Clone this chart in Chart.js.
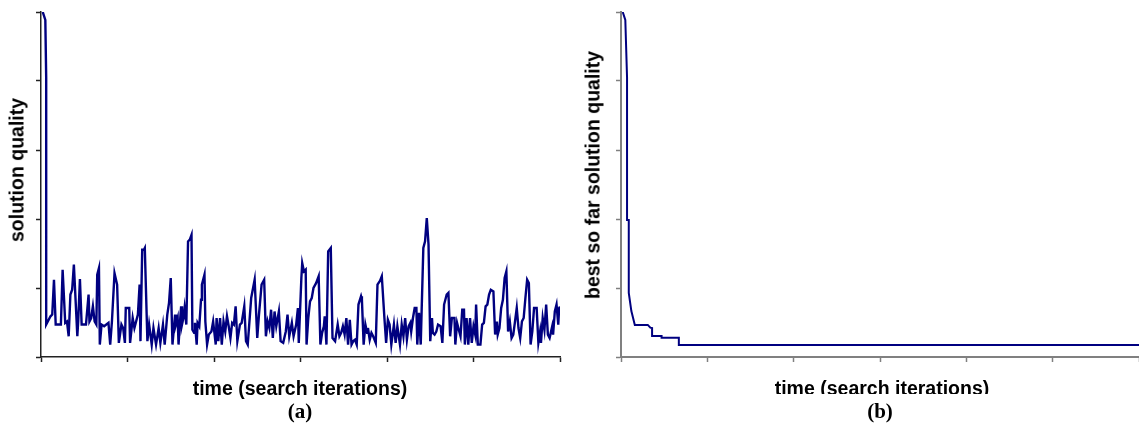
<!DOCTYPE html>
<html>
<head>
<meta charset="utf-8">
<script src="https://cdn.jsdelivr.net/npm/chart.js@4/dist/chart.umd.min.js"></script>
<style>
  body { margin: 0; background: #fff; width: 1139px; height: 429px; overflow: hidden; position: relative; }
  .box { position: absolute; top: 0; height: 429px; }
  .lbl { position: absolute; font-family: "Liberation Sans", Arial, sans-serif; font-weight: bold; font-size: 19.5px; color: #000; white-space: nowrap; transform: translate(-50%, -50%); }
  .rot { transform: translate(-50%, -50%) rotate(-90deg); }
  .cap { position: absolute; font-family: "Liberation Serif", "Times New Roman", serif; font-weight: bold; font-size: 21px; transform: translate(-50%, -50%); }
  .clip { position: absolute; overflow: hidden; }
</style>
</head>
<body>
<div class="box" style="left:0;width:580px"><canvas id="chartA"></canvas></div>
<div class="box" style="left:580px;width:559px"><canvas id="chartB"></canvas></div>

<div class="lbl rot" style="left:17px;top:170px">solution quality</div>
<div class="lbl rot" style="left:593px;top:175px">best so far solution quality</div>
<div class="lbl" style="left:300px;top:388px">time (search iterations)</div>
<div class="clip" style="left:700px;top:370px;width:370px;height:24px">
  <div class="lbl" style="left:182px;top:18px">time (search iterations)</div>
</div>
<div class="cap" style="left:300px;top:411px">(a)</div>
<div class="cap" style="left:880px;top:411px">(b)</div>

<script>
// (a) current solution quality per iteration
var iterA = [2, 5, 6, 6, 11, 13, 15, 17, 23, 25, 28, 30, 32, 34, 36, 38, 42, 43, 45, 47,
  52, 55, 56, 58, 60, 62, 64, 65, 67, 68, 70, 73, 78, 80, 82, 85, 88, 90, 93, 95,
  97, 98, 102, 103, 106, 108, 112, 114, 115, 117, 119, 120, 123, 125, 128, 130, 133, 136, 138, 141,
  143, 146, 148, 150, 152, 155, 156, 158, 159, 161, 162, 163, 165, 166, 168, 170, 172, 174, 175, 177,
  178, 180, 181, 183, 185, 186, 189, 190, 192, 194, 197, 199, 202, 203, 205, 207, 209, 211, 213, 215,
  217, 219, 221, 223, 225, 227, 230, 232, 235, 237, 239, 243, 247, 250, 252, 255, 258, 260, 262, 264,
  266, 268, 270, 272, 275, 277, 280, 283, 285, 287, 290, 292, 295, 297, 298, 301, 302, 304, 306, 307,
  309, 311, 313, 315, 318, 321, 323, 325, 327, 328, 330, 332, 335, 337, 340, 343, 345, 347, 349, 351,
  353, 355, 357, 359, 361, 363, 365, 367, 370, 371, 373, 375, 377, 378, 380, 382, 384, 387, 389, 392,
  394, 397, 399, 401, 403, 405, 408, 410, 412, 415, 417, 419, 421, 423, 425, 427, 428, 430, 432, 434,
  435, 437, 439, 442, 444, 446, 448, 450, 452, 453, 455, 457, 459, 462, 464, 466, 469, 471, 473, 475,
  478, 479, 481, 483, 485, 487, 489, 490, 492, 494, 496, 498, 500, 502, 503, 505, 508, 510, 512, 514,
  516, 518, 520, 523, 525, 527, 528, 530, 532, 534, 536, 538, 540, 542, 544, 546, 548, 550, 552, 554,
  556, 558, 560, 562, 564, 566, 568, 570, 573, 575, 577, 578, 580, 582, 584, 586, 588, 591, 592, 594,
  596, 598, 599, 600];
var qualityA = [100, 97.7, 81, 9.4, 11.8, 12.3, 22.4, 9.4, 9.4, 25.3, 9.9, 10.3, 6.0, 18.1, 19.5, 26.8, 6.0, 10.3, 22.6, 9.4,
  9.4, 18.1, 10.3, 11.3, 14.7, 10.3, 9.4, 23.9, 25.8, 3.6, 9.4, 8.9, 9.9, 3.6, 10.3, 24.3, 21.0, 4.1, 9.4, 8.4,
  4.1, 14.2, 14.2, 4.1, 11.3, 8.4, 12.3, 21.0, 4.6, 31.1, 31.1, 31.6, 4.6, 9.4, 3.6, 8.4, 3.6, 8.4, 4.1, 9.4,
  3.6, 12.3, 15.7, 22.9, 3.6, 12.3, 9.4, 11.3, 3.6, 11.3, 14.7, 9.4, 11.8, 14.2, 9.4, 33.5, 34.0, 35.4, 7.9, 7.0,
  9.9, 3.6, 9.9, 8.9, 16.6, 21.0, 23.9, 10.3, 3.6, 6.5, 7.4, 10.3, 3.6, 11.3, 4.6, 11.3, 3.6, 10.3, 7.4, 11.8,
  8.9, 5.5, 9.9, 9.4, 14.7, 4.6, 9.4, 9.9, 14.7, 4.6, 3.6, 17.1, 22.4, 5.5, 12.3, 21.0, 22.4, 6.0, 10.3, 8.4,
  13.7, 5.5, 13.2, 8.9, 13.2, 4.6, 4.1, 7.4, 12.3, 6.0, 9.9, 6.0, 9.4, 14.2, 4.1, 22.9, 27.2, 24.8, 25.3, 3.6,
  11.3, 16.1, 17.1, 20.0, 21.4, 23.4, 3.6, 7.0, 8.9, 11.8, 3.6, 30.6, 31.6, 5.5, 4.6, 9.4, 6.0, 7.0, 8.9, 6.5,
  11.3, 3.6, 10.8, 3.6, 4.6, 5.0, 3.6, 15.2, 17.6, 16.6, 3.6, 9.4, 7.0, 8.4, 5.0, 7.0, 6.0, 4.1, 21.0, 22.1,
  23.4, 11.3, 4.1, 10.8, 9.4, 3.6, 9.4, 4.1, 8.9, 3.6, 9.4, 6.0, 11.3, 5.0, 8.9, 9.9, 7.4, 11.3, 14.2, 14.2,
  3.6, 12.8, 3.6, 31.6, 33.5, 40.3, 32.6, 4.6, 11.3, 7.0, 6.5, 7.4, 9.4, 8.9, 4.1, 15.2, 18.1, 18.6, 6.0, 11.3,
  11.3, 3.6, 9.9, 7.9, 6.0, 13.7, 13.7, 3.6, 11.3, 3.6, 11.3, 4.1, 8.9, 6.5, 15.2, 3.6, 3.6, 9.4, 9.9, 14.7,
  15.2, 18.1, 19.5, 19.0, 6.5, 10.3, 6.5, 8.4, 14.2, 16.6, 22.9, 24.8, 7.4, 10.3, 5.5, 6.5, 10.3, 14.2, 8.4, 5.5,
  10.3, 11.3, 17.1, 22.4, 21.4, 3.6, 7.4, 14.2, 14.2, 4.1, 7.4, 4.1, 11.3, 7.9, 15.2, 6.5, 5.5, 8.9, 6.5, 13.2,
  15.2, 9.4, 14.2, 14.6];

// (b) best so far solution quality
var iterB = [2, 5, 7, 7, 9, 9, 12, 16, 31, 34, 36, 36, 47, 47, 67, 67, 600];
var qualityB = [100, 97.7, 81, 39.7, 39.7, 18.6, 13.3, 9.3, 9.3, 8.5, 8.4, 6.1, 6.1, 5.6, 5.6, 3.5, 3.5];

function toPoints(xs, ys) {
    var pts = [];
    for (var i = 0; i < xs.length; i++) {
        pts.push({ x: xs[i], y: ys[i] });
    }
    return pts;
}

function makeChart(id, xs, ys, axisColor, axisWidth, lineWidth, padRight) {
    var ctx = document.getElementById(id).getContext('2d');
    return new Chart(ctx, {
        type: 'line',
        data: {
            datasets: [{
                data: toPoints(xs, ys),
                borderColor: '#000080',
                borderWidth: lineWidth,
                pointRadius: 0,
                tension: 0,
                fill: false
            }]
        },
        options: {
            responsive: true,
            maintainAspectRatio: false,
            animation: false,
            events: [],
            layout: { padding: { top: 12, right: padRight, left: 0, bottom: 0 } },
            plugins: { legend: { display: false }, tooltip: { enabled: false } },
            scales: {
                x: {
                    type: 'linear', min: 0, max: 600,
                    ticks: { display: false, stepSize: 100 },
                    grid: { drawOnChartArea: false, drawTicks: true, tickLength: 5, color: axisColor, tickWidth: 1.5 },
                    border: { color: axisColor, width: axisWidth },
                    afterFit: function (scale) { scale.height = 72; }
                },
                y: {
                    min: 0, max: 100,
                    ticks: { display: false, stepSize: 20 },
                    grid: { drawOnChartArea: false, drawTicks: true, tickLength: 5, color: axisColor, tickWidth: 1.5 },
                    border: { color: axisColor, width: axisWidth },
                    afterFit: function (scale) { scale.width = 41; }
                }
            }
        }
    });
}

makeChart('chartA', iterA, qualityA, '#222222', 1.5, 2.4, 20);
makeChart('chartB', iterB, qualityB, '#808080', 2, 2, 0);
</script>
</body>
</html>
